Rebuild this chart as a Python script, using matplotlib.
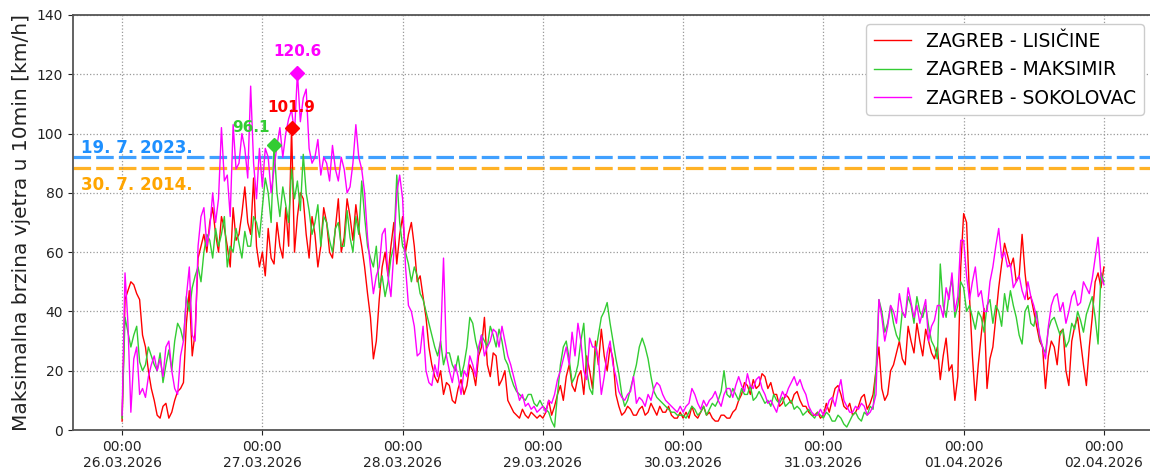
import pandas as pd
import matplotlib
matplotlib.use("Agg")
import matplotlib.pyplot as plt
import matplotlib.dates as mdates
from matplotlib.transforms import blended_transform_factory

# --------------------
# Data: max wind speed (km/h) every 30 min, 26.03.2026 00:00 -> 02.04.2026 00:00
# one row per day
# --------------------
start = "2026-03-26 00:00"

lisicine = [
    3, 44, 47, 50, 49, 46, 44, 32, 28, 20, 14, 10, 5, 4, 8, 9, 4, 6, 10, 13, 14, 16, 36, 47,
    25, 33, 58, 62, 66, 60, 70, 75, 66, 60, 72, 68, 62, 55, 75, 64, 66, 73, 82, 70, 66, 85, 62, 55,
    60, 52, 68, 58, 56, 70, 62, 58, 75, 62, 101.9, 60, 72, 80, 78, 66, 58, 72, 66, 55, 62, 75, 70, 60,
    58, 68, 78, 60, 65, 78, 72, 64, 76, 68, 62, 55, 46, 38, 24, 30, 44, 55, 60, 52, 62, 70, 56, 66,
    72, 60, 66, 70, 62, 50, 52, 45, 38, 28, 22, 18, 16, 20, 12, 16, 15, 10, 9, 14, 17, 12, 15, 22,
    20, 15, 25, 28, 38, 22, 18, 26, 25, 15, 17, 20, 10, 8, 6, 5, 4, 7, 5, 4, 6, 5, 4, 5,
    4, 6, 10, 5, 8, 12, 15, 10, 18, 22, 15, 13, 18, 20, 12, 25, 20, 14, 30, 22, 34, 25, 20, 28,
    24, 12, 8, 5, 6, 8, 7, 5, 5, 7, 8, 5, 6, 9, 7, 5, 8, 6, 6, 8, 5, 4, 4, 6,
    4, 6, 4, 8, 5, 4, 6, 8, 5, 6, 4, 3, 3, 5, 5, 4, 4, 6, 7, 10, 12, 16, 15, 12,
    17, 14, 15, 19, 18, 14, 16, 12, 12, 8, 9, 12, 11, 9, 12, 13, 10, 8, 8, 6, 5, 5, 6, 4,
    5, 9, 6, 10, 14, 15, 12, 8, 7, 9, 5, 6, 8, 11, 12, 7, 9, 12, 20, 28, 14, 10, 12, 20,
    22, 26, 30, 24, 22, 35, 30, 26, 36, 30, 25, 34, 30, 26, 24, 28, 17, 25, 31, 20, 22, 10, 18, 55,
    73, 70, 45, 25, 10, 22, 32, 41, 14, 24, 28, 38, 48, 56, 63, 59, 55, 58, 50, 52, 66, 53, 44, 45,
    40, 35, 30, 28, 14, 25, 30, 28, 22, 33, 34, 20, 15, 30, 35, 38, 30, 22, 15, 28, 38, 50, 53, 48,
    55,
]

maksimir = [
    4, 38, 33, 28, 32, 35, 23, 20, 22, 28, 25, 22, 20, 26, 16, 22, 27, 20, 30, 36, 34, 30, 45, 40,
    48, 52, 55, 50, 60, 66, 64, 58, 68, 62, 66, 72, 55, 62, 60, 68, 63, 58, 67, 62, 62, 72, 70, 65,
    75, 85, 80, 70, 96.1, 80, 72, 82, 76, 70, 88, 78, 84, 74, 93, 80, 74, 66, 70, 76, 62, 72, 70, 64,
    60, 68, 70, 62, 62, 74, 65, 60, 72, 66, 84, 72, 62, 58, 55, 62, 48, 52, 45, 50, 58, 62, 86, 70,
    62, 60, 56, 50, 55, 52, 46, 44, 40, 36, 32, 28, 25, 30, 22, 26, 26, 22, 20, 25, 18, 22, 28, 38,
    36, 30, 26, 32, 30, 28, 35, 32, 28, 34, 30, 24, 22, 18, 15, 13, 12, 11, 10, 12, 12, 9, 8, 10,
    8, 7, 6, 3, 1, 12, 22, 28, 30, 24, 16, 18, 22, 30, 36, 20, 14, 12, 26, 32, 38, 40, 43, 36,
    30, 24, 19, 12, 8, 10, 14, 18, 22, 28, 31, 28, 24, 18, 13, 11, 10, 9, 8, 7, 6, 6, 5, 5,
    5, 4, 6, 8, 7, 5, 6, 8, 5, 7, 9, 8, 10, 13, 20, 12, 11, 14, 12, 10, 14, 12, 12, 15,
    10, 11, 13, 11, 9, 10, 8, 12, 10, 9, 11, 8, 9, 10, 7, 8, 7, 5, 6, 7, 5, 4, 6, 5,
    4, 6, 5, 3, 3, 5, 4, 2, 1, 3, 5, 6, 4, 3, 6, 5, 8, 7, 20, 44, 40, 33, 36, 42,
    36, 32, 30, 40, 38, 45, 42, 36, 45, 40, 38, 42, 35, 30, 28, 24, 56, 42, 38, 46, 51, 38, 42, 50,
    48, 40, 42, 38, 34, 40, 38, 33, 42, 44, 36, 42, 40, 35, 46, 40, 47, 42, 38, 32, 29, 40, 42, 36,
    35, 40, 31, 28, 26, 34, 37, 38, 35, 32, 34, 28, 30, 36, 34, 40, 37, 33, 39, 42, 45, 38, 29, 53,
    50,
]

sokolovac = [
    5, 53, 36, 6, 24, 28, 12, 14, 11, 18, 22, 25, 20, 24, 18, 28, 30, 20, 14, 12, 25, 30, 45, 55,
    32, 30, 62, 72, 75, 62, 68, 80, 70, 78, 102, 84, 86, 72, 103, 88, 90, 100, 95, 85, 116, 90, 78, 95,
    82, 95, 92, 80, 88, 96, 102, 92, 100, 105, 108, 100, 120.6, 104, 112, 115, 95, 90, 92, 98, 86, 92, 90, 84,
    96, 88, 84, 92, 88, 80, 82, 90, 103, 92, 88, 80, 65, 55, 46, 52, 55, 66, 68, 52, 45, 60, 80, 86,
    78, 55, 42, 40, 35, 25, 26, 35, 20, 16, 15, 22, 18, 30, 58, 25, 20, 16, 22, 18, 12, 20, 18, 25,
    22, 18, 28, 32, 25, 28, 30, 34, 33, 28, 35, 30, 25, 22, 18, 14, 10, 12, 8, 9, 7, 8, 6, 7,
    8, 6, 10, 9, 12, 17, 20, 24, 28, 22, 33, 25, 36, 30, 20, 17, 31, 28, 28, 24, 12, 18, 26, 30,
    22, 18, 13, 11, 10, 12, 13, 18, 9, 11, 10, 8, 12, 10, 14, 16, 15, 12, 10, 9, 8, 7, 6, 8,
    6, 8, 9, 14, 12, 9, 7, 10, 8, 10, 11, 13, 10, 8, 12, 14, 14, 11, 15, 18, 15, 13, 19, 15,
    14, 17, 18, 14, 12, 9, 10, 8, 6, 10, 13, 11, 14, 16, 18, 15, 17, 14, 12, 8, 6, 5, 5, 7,
    5, 7, 10, 11, 8, 13, 17, 10, 8, 6, 6, 8, 7, 9, 8, 5, 6, 8, 12, 44, 38, 30, 35, 42,
    40, 36, 46, 40, 38, 48, 43, 38, 42, 36, 40, 44, 30, 35, 37, 42, 42, 38, 48, 44, 53, 40, 45, 64,
    64, 52, 44, 50, 55, 45, 47, 40, 40, 50, 55, 62, 68, 58, 60, 55, 56, 48, 50, 52, 47, 44, 50, 45,
    42, 38, 32, 28, 24, 35, 42, 45, 46, 40, 43, 36, 40, 45, 47, 42, 43, 50, 48, 46, 51, 58, 65, 52,
    49,
]

stations = ["ZAGREB - LISIČINE", "ZAGREB - MAKSIMIR", "ZAGREB - SOKOLOVAC"]
colors = ["red", "#33cc33", "magenta"]

# historical reference values
ref_values = [92.0, 88.4]
ref_labels = ["19. 7. 2023.", "30. 7. 2014."]
ref_colors = ["dodgerblue", "orange"]

times = pd.date_range(start, periods=len(lisicine), freq="30min")
series = [lisicine, maksimir, sokolovac]

# --------------------
# Plot
# --------------------
fig = plt.figure(figsize=(11.5, 4.68), dpi=100)
ax = fig.add_axes([73 / 1150, 38 / 468, 1080 / 1150, 415 / 468])

for name, vals, col in zip(stations, series, colors):
    ax.plot(times, vals, color=col, lw=1.0, label=name)

# reference lines
for val, col in zip(ref_values, ref_colors):
    ax.axhline(val, color=col, lw=2.3, alpha=0.85, dashes=(5.5, 1.6), zorder=1)

trans = blended_transform_factory(ax.transAxes, ax.transData)
ax.text(0.007, ref_values[0] + 3.3, ref_labels[0], color=ref_colors[0],
        fontsize=12, fontweight="bold", va="center", ha="left", transform=trans)
ax.text(0.007, ref_values[1] - 5.8, ref_labels[1], color=ref_colors[1],
        fontsize=12, fontweight="bold", va="center", ha="left", transform=trans)

# peaks
for i, (vals, col) in enumerate(zip(series, colors)):
    s = pd.Series(vals, index=times)
    t_max = s.idxmax()
    v_max = s.max()
    ax.plot(t_max, v_max, marker="D", ms=7, color=col, zorder=6)
    if i == 1:
        ax.annotate(f"{v_max:.1f}", (t_max, v_max), xytext=(-3, 13),
                    textcoords="offset points", ha="right", va="center",
                    color=col, fontsize=11, fontweight="bold")
    else:
        ax.annotate(f"{v_max:.1f}", (t_max, v_max), xytext=(0, 15),
                    textcoords="offset points", ha="center", va="center",
                    color=col, fontsize=11, fontweight="bold")

pad = pd.Timedelta(hours=8.4)
ax.set_xlim(times[0] - pad, times[-1] + pad)
ax.set_ylim(0, 140)
ax.set_yticks(range(0, 141, 20))
ax.xaxis.set_major_locator(mdates.DayLocator())
ax.xaxis.set_major_formatter(mdates.DateFormatter("%H:%M\n%d.%m.%Y"))
ax.tick_params(labelsize=10, colors="#222222")

ax.set_ylabel("Maksimalna brzina vjetra u 10min [km/h]", fontsize=14.5, color="#222222")
ax.grid(True, linestyle=":", color="#999999", lw=0.9)
for sp in ax.spines.values():
    sp.set_color("#555555")
    sp.set_linewidth(1.3)

ax.legend(loc="upper right", fontsize=13.5, framealpha=1.0)

fig.savefig("out.png", dpi=100)
